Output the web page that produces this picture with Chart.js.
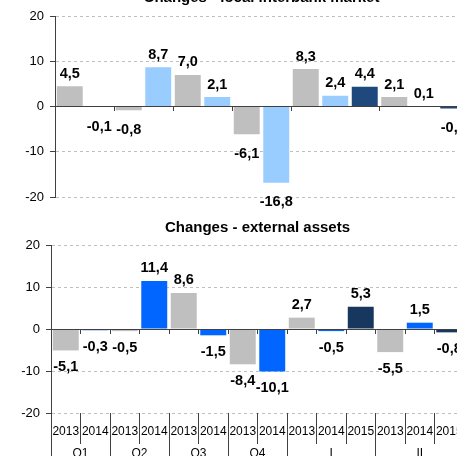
<!DOCTYPE html>
<html><head><meta charset="utf-8">
<script src="https://cdn.jsdelivr.net/npm/chart.js@4.4.0/dist/chart.umd.min.js"></script>
<style>
html,body{margin:0;padding:0;background:#fff;overflow:hidden;width:457px;height:456px;position:relative}
#c1{position:absolute;left:0;top:-11px}
#c2{position:absolute;left:0;top:219px}
</style></head>
<body>
<canvas id="c1" width="468" height="222"></canvas>
<canvas id="c2" width="464" height="248"></canvas>
<script>
// ---- data ----
const years = ['2013','2014','2013','2014','2013','2014','2013','2014','2013','2014','2015','2013','2014','2015'];
const groups = ['Q1','Q2','Q3','Q4','I','II'];
const groupSizes = [2,2,2,2,3,3];
const localInterbank = [4.5,-0.1,-0.8,8.7,7.0,2.1,-6.1,-16.8,8.3,2.4,4.4,2.1,0.1,-0.4];
const externalAssets = [-5.1,-0.3,-0.5,11.4,8.6,-1.5,-8.4,-10.1,2.7,-0.5,5.3,-5.5,1.5,-0.8];
const yMin = -20, yMax = 20, yStep = 10;
const titleTop = 'Changes - local interbank market';
const titleBottom = 'Changes - external assets';

// ---- styles ----
const FONT = '"Liberation Sans", Arial, sans-serif';
const colorsTop = {'2013':'#BFBFBF','2014':'#99CCFF','2015':'#1F497D'};
const colorsBottom = {'2013':'#BFBFBF','2014':'#0066FF','2015':'#17375E'};
const AXIS = '#404040';
const GRID = '#BFBFBF';

// group boundaries (category indices)
const boundaries = [0];
groupSizes.forEach(s => boundaries.push(boundaries[boundaries.length-1] + s));
const centers = groupSizes.map((s, i) => boundaries[i] + s / 2);

const fmt = v => v.toFixed(1).replace('.', ',');

const barLabels = {
  id: 'barLabels',
  afterDatasetsDraw(chart, args, opts) {
    const ctx = chart.ctx;
    const meta = chart.getDatasetMeta(0);
    const data = chart.data.datasets[0].data;
    ctx.save();
    ctx.font = 'bold 14.5px ' + FONT;
    ctx.fillStyle = '#000';
    ctx.textAlign = 'center';
    ctx.textBaseline = 'alphabetic';
    meta.data.forEach((bar, i) => {
      const v = data[i];
      const y = v >= 0 ? Math.min(bar.y, bar.base) - opts.above
                       : Math.max(bar.y, bar.base) + opts.below;
      ctx.fillText(fmt(v), bar.x, y);
    });
    ctx.restore();
  }
};

function yScale(width) {
  return {
    min: yMin, max: yMax,
    afterFit: s => { s.width = width; },
    ticks: { stepSize: yStep, color: '#000', font: { family: FONT, size: 13 }, padding: 6 },
    grid: {
      color: c => (c.tick && c.tick.value === 0) ? 'rgba(0,0,0,0)' : GRID,
      lineWidth: 1, tickLength: 5, tickColor: AXIS, tickBorderDash: []
    },
    border: { color: AXIS, width: 1, dash: [3, 3] }
  };
}

function zeroAxis(tickAll) {
  return {
    type: 'category', position: { y: 0 }, offset: true,
    ticks: { display: false },
    grid: {
      offset: true, drawOnChartArea: false, drawTicks: true, tickLength: 4,
      tickColor: c => (tickAll || boundaries.includes(c.index)) ? AXIS : 'rgba(0,0,0,0)',
      tickBorderDash: []
    },
    border: { color: AXIS, width: 1, z: 1 }
  };
}

function titleOpts(text, bottomPad) {
  return {
    display: true, text, fullSize: false, color: '#000',
    font: { family: FONT, size: 15, weight: 'bold' },
    padding: { top: 0, bottom: bottomPad }
  };
}

Chart.defaults.font.family = FONT;

new Chart(document.getElementById('c1'), {
  type: 'bar',
  data: {
    labels: years,
    datasets: [{
      data: localInterbank,
      backgroundColor: years.map(y => colorsTop[y]),
      barPercentage: 0.88, categoryPercentage: 1
    }]
  },
  options: {
    responsive: false, animation: false,
    layout: { padding: { left: 0, right: 0, top: 0, bottom: 10 } },
    plugins: {
      legend: { display: false }, tooltip: { enabled: false },
      title: titleOpts(titleTop, 9),
      barLabels: { above: 8.5, below: 23.5 }
    },
    scales: { x: zeroAxis(false), y: yScale(55) }
  },
  plugins: [barLabels]
});

new Chart(document.getElementById('c2'), {
  type: 'bar',
  data: {
    labels: years,
    datasets: [{
      data: externalAssets,
      backgroundColor: years.map(y => colorsBottom[y]),
      barPercentage: 0.88, categoryPercentage: 1
    }]
  },
  options: {
    responsive: false, animation: false,
    layout: { padding: 0 },
    plugins: {
      legend: { display: false }, tooltip: { enabled: false },
      title: titleOpts(titleBottom, 8),
      barLabels: { above: 8.7, below: 21 }
    },
    scales: {
      x: zeroAxis(true),
      y: yScale(51),
      xYears: {
        type: 'category', position: 'bottom', weight: 1, offset: true,
        afterFit: s => { s.height = 24; },
        ticks: { color: '#000', font: { family: FONT, size: 12 }, padding: -19.2,
                 autoSkip: false, maxRotation: 0, minRotation: 0 },
        grid: { offset: true, drawOnChartArea: false, drawTicks: true, tickLength: 31,
                tickColor: AXIS, tickBorderDash: [] },
        border: { display: false }
      },
      xGroups: {
        type: 'linear', position: 'bottom', weight: 2, min: 0, max: years.length, offset: false,
        afterFit: s => { s.height = 30; },
        afterBuildTicks: s => {
          const vals = boundaries.concat(centers).sort((a, b) => a - b);
          s.ticks = vals.map(v => ({ value: v }));
        },
        ticks: {
          color: '#000', font: { family: FONT, size: 12 }, padding: -20.2,
          autoSkip: false, maxRotation: 0, minRotation: 0,
          callback: v => { const k = centers.indexOf(v); return k >= 0 ? groups[k] : ''; }
        },
        grid: { offset: false, drawOnChartArea: false, drawTicks: true, tickLength: 30,
                tickColor: c => (c.tick && boundaries.includes(c.tick.value)) ? AXIS : 'rgba(0,0,0,0)',
                tickBorderDash: [] },
        border: { display: false }
      }
    }
  },
  plugins: [barLabels]
});
</script>
</body></html>
